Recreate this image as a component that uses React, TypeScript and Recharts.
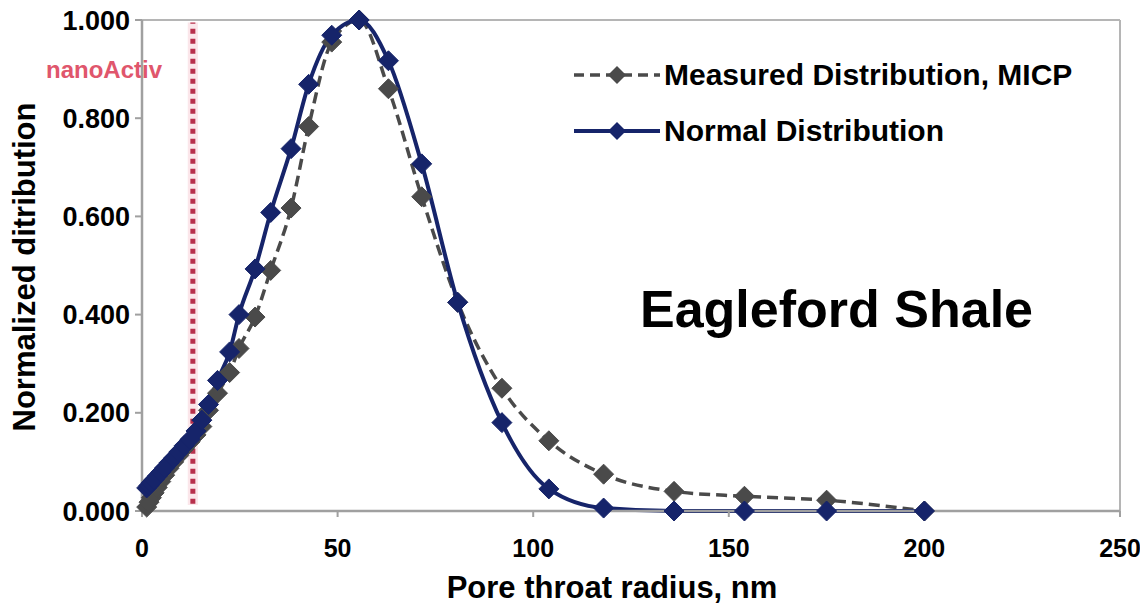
import React from 'react';
import {
  LineChart,
  Line,
  XAxis,
  YAxis,
  ReferenceLine,
  ReferenceArea,
  Customized,
} from 'recharts';

// pore throat radius, nm (shared by both series)
const radius = [
  1.2, 1.8, 2.4, 3.1, 3.9, 4.8, 5.8, 6.9, 8.1, 9.4, 10.8, 12.3, 13.8, 15.3, 17.0, 19.3,
  22.4, 24.8, 28.9, 32.9, 38.1, 42.6, 48.5, 55.5, 63.0, 71.5, 80.7, 92, 104, 118, 136,
  154, 175, 200,
];

const measured = [
  0.008, 0.018, 0.027, 0.037, 0.048, 0.06, 0.073, 0.087, 0.1, 0.113, 0.127, 0.141, 0.155,
  0.172, 0.205, 0.24, 0.282, 0.331, 0.395, 0.49, 0.617, 0.783, 0.955, 1.0, 0.86, 0.64,
  0.425, 0.25, 0.143, 0.075, 0.04, 0.03, 0.022, 0.0,
];

const normal = [
  0.047, 0.052, 0.058, 0.064, 0.071, 0.079, 0.088, 0.098, 0.108, 0.12, 0.133, 0.146, 0.163,
  0.185, 0.217, 0.266, 0.324, 0.4, 0.493, 0.608, 0.738, 0.869, 0.969, 1.0, 0.917, 0.707,
  0.425, 0.18, 0.045, 0.006, 0.0, 0.0, 0.0, 0.0,
];

const xTicks = [0, 50, 100, 150, 200, 250];
const yTicks = [0, 0.2, 0.4, 0.6, 0.8, 1.0];
const nanoActivCutoff = 13;

const data = radius.map((r, i) => ({ r, measured: measured[i], normal: normal[i] }));

const FONT = '"Liberation Sans", Arial, sans-serif';
const BLUE = '#16246a';
const GRAY = '#4a4a4a';

const diamond = (color: string, size: number) => (props: any) => {
  const { cx, cy, index } = props;
  if (cx == null || cy == null) return <g key={`d-${index}`} />;
  return (
    <polygon
      key={`d-${index}`}
      points={`${cx},${cy - size} ${cx + size},${cy} ${cx},${cy + size} ${cx - size},${cy}`}
      fill={color}
      stroke={color}
      strokeWidth={1}
    />
  );
};

// legend drawn as a plain overlay so it takes no room from the plot
const ChartLegend = () => (
  <div
    style={{
      position: 'absolute',
      left: 572,
      top: 47,
      fontFamily: FONT,
      fontWeight: 'bold',
      fontSize: 30,
      color: '#000',
      whiteSpace: 'nowrap',
    }}
  >
    <div style={{ display: 'flex', alignItems: 'center', height: 56 }}>
      <svg width={92} height={20}>
        <line x1={2} y1={10} x2={88} y2={10} stroke={GRAY} strokeWidth={3.5} strokeDasharray="10 6" />
        <polygon points="45,1 54,10 45,19 36,10" fill={GRAY} />
      </svg>
      <span>Measured Distribution, MICP</span>
    </div>
    <div style={{ display: 'flex', alignItems: 'center', height: 56 }}>
      <svg width={92} height={20}>
        <line x1={2} y1={10} x2={88} y2={10} stroke={BLUE} strokeWidth={4} />
        <polygon points="45,1 54,10 45,19 36,10" fill={BLUE} />
      </svg>
      <span>Normal Distribution</span>
    </div>
  </div>
);

const Annotations = () => (
  <g style={{ fontFamily: FONT }}>
    <text x={46} y={78} fontSize={24} fontWeight="bold" fill="#e0566c">
      nanoActiv
    </text>
    <text x={640} y={327} fontSize={52} fontWeight="bold" fill="#000">
      Eagleford Shale
    </text>
    <text x={612} y={598} fontSize={31} fontWeight="bold" fill="#000" textAnchor="middle">
      Pore throat radius, nm
    </text>
    <text
      x={35}
      y={267}
      fontSize={31}
      fontWeight="bold"
      fill="#000"
      textAnchor="middle"
      transform="rotate(-90 35 267)"
    >
      Normalized ditribution
    </text>
  </g>
);

export default function App() {
  return (
    <div style={{ position: 'absolute', left: 0, top: 0, width: 1140, height: 609, background: '#fff' }}>
      <LineChart
        width={1140}
        height={609}
        data={data}
        margin={{ top: 20, right: 20, bottom: 0, left: 0 }}
      >
        <XAxis
          dataKey="r"
          type="number"
          domain={[0, 250]}
          ticks={xTicks}
          height={98}
          tickSize={6}
          tickMargin={22}
          axisLine={{ stroke: '#a0a0a0', strokeWidth: 2.5 }}
          tickLine={{ stroke: '#a0a0a0', strokeWidth: 2 }}
          tick={{ fontSize: 25, fontWeight: 'bold', fill: '#000', fontFamily: FONT }}
        />
        <YAxis
          type="number"
          domain={[0, 1]}
          ticks={yTicks}
          width={142}
          tickSize={7}
          tickMargin={5}
          tickFormatter={(v: number) => v.toFixed(3)}
          axisLine={{ stroke: '#a0a0a0', strokeWidth: 2.5 }}
          tickLine={{ stroke: '#a0a0a0', strokeWidth: 2 }}
          tick={{ fontSize: 27, fontWeight: 'bold', fill: '#000', fontFamily: FONT }}
        />
        <ReferenceLine y={1} stroke="#b5b5b5" strokeWidth={2} />
        <ReferenceLine x={250} stroke="#b5b5b5" strokeWidth={2} />
        <ReferenceArea
          x1={nanoActivCutoff - 1.3}
          x2={nanoActivCutoff + 1.3}
          y1={0.012}
          y2={0.995}
          fill="#f8d2d8"
          fillOpacity={0.55}
          stroke="none"
        />
        <Line
          type="monotone"
          dataKey="measured"
          name="Measured Distribution, MICP"
          stroke={GRAY}
          strokeWidth={3.5}
          strokeDasharray="11 6"
          dot={diamond(GRAY, 10)}
          isAnimationActive={false}
        />
        <Line
          type="monotone"
          dataKey="normal"
          name="Normal Distribution"
          stroke={BLUE}
          strokeWidth={4}
          dot={diamond(BLUE, 10)}
          isAnimationActive={false}
        />
        <ReferenceLine
          segment={[
            { x: nanoActivCutoff, y: 0.015 },
            { x: nanoActivCutoff, y: 0.995 },
          ]}
          stroke="#b8304c"
          strokeWidth={5}
          strokeDasharray="5 5"
        />
        <Customized component={Annotations} />
      </LineChart>
      <ChartLegend />
    </div>
  );
}
